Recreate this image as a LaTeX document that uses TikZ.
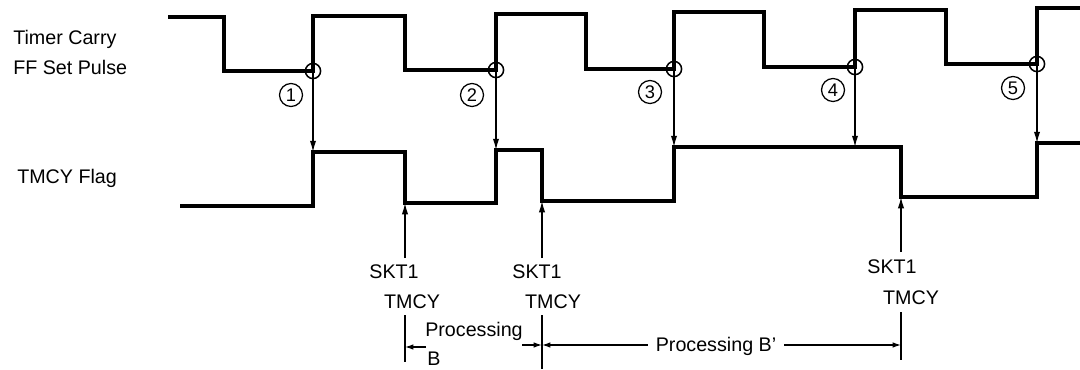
\documentclass[tikz,border=0pt]{standalone}
\usepackage{fontspec}
\setmainfont{Liberation Sans}
\usetikzlibrary{arrows.meta}
\begin{document}
\begin{tikzpicture}[x=0.025cm,y=-0.025cm,
  sig/.style={line width=2.2pt, line join=miter},
  conn/.style={line width=0.9pt},
  arr/.style={conn,-{Latex[length=8pt,width=4.5pt]}},
  darr/.style={conn,-{Latex[length=6pt,width=4pt]}},
  lbl/.style={font=\fontsize{14}{16}\selectfont, inner sep=0pt},
  num/.style={draw, circle, line width=0.9pt, minimum size=0.575cm, inner sep=0pt, font=\fontsize{13}{15}\selectfont},
  ring/.style={draw, line width=1.1pt}]
\useasboundingbox (0,0) rectangle (1080,369);
% left labels
\node[lbl, anchor=base west] (l1) at (13,44) {Timer Carry};
\node[lbl, anchor=base west] (l2) at (13,74) {FF Set Pulse};
\node[lbl, anchor=base west] (l3) at (17,183) {TMCY Flag};
% signals
\draw[sig] (168,17) -- (224,17) -- (224,71) -- (313,71) -- (313,16) -- (405,16) -- (405,70) -- (496,70) -- (496,14) -- (586,14) -- (586,69) -- (674,69) -- (674,12) -- (764,12) -- (764,67) -- (855,67) -- (855,10) -- (946,10) -- (946,64) -- (1037,64) -- (1037,8) -- (1080,8);
\draw[sig] (180,206) -- (313,206) -- (313,152) -- (405,152) -- (405,203) -- (496,203) -- (496,150) -- (542,150) -- (542,201) -- (674,201) -- (674,147) -- (901,147) -- (901,197) -- (1037,197) -- (1037,143) -- (1080,143);
% edge points
\coordinate (e1) at (313,71);  \coordinate (t1) at (313,152);
\coordinate (e2) at (496,70);  \coordinate (t2) at (496,150);
\coordinate (e3) at (674,69);  \coordinate (t3) at (674,147);
\coordinate (e4) at (855,67);  \coordinate (t4) at (855,147);
\coordinate (e5) at (1037,64); \coordinate (t5) at (1037,143);
\foreach \i in {1,...,5}{
  \draw[ring] (e\i) circle[radius=0.19cm];
  \draw[arr] (e\i) -- (t\i);
}
% circled numbers
\node[num] (n1) at (291,95) {1};
\node[num] (n2) at (472,95) {2};
\node[num] (n3) at (650,92) {3};
\node[num] (n4) at (833,90) {4};
\node[num] (n5) at (1013,88) {5};
% SKT1 / TMCY
\coordinate (s1) at (405,203); \coordinate (a1) at (405,258);
\coordinate (s2) at (542,201); \coordinate (a2) at (542,258);
\coordinate (s3) at (901,197); \coordinate (a3) at (901,252);
\draw[arr] (a1) -- (s1);
\draw[arr] (a2) -- (s2);
\draw[arr] (a3) -- (s3);
\node[lbl, anchor=base] (k1) at (394,278) {SKT1};
\node[lbl, anchor=base] (m1) at (412,308) {TMCY};
\node[lbl, anchor=base] (k2) at (537,278) {SKT1};
\node[lbl, anchor=base] (m2) at (553,308) {TMCY};
\node[lbl, anchor=base] (k3) at (892,273) {SKT1};
\node[lbl, anchor=base] (m3) at (911,304) {TMCY};
% ticks
\coordinate (p1a) at (405,315); \coordinate (p1b) at (405,362);
\coordinate (p2a) at (542,315); \coordinate (p2b) at (542,369);
\coordinate (p3a) at (901,312); \coordinate (p3b) at (901,360);
\draw[conn] (p1a) -- (p1b);
\draw[conn] (p2a) -- (p2b);
\draw[conn] (p3a) -- (p3b);
% processing B
\node[lbl, anchor=base] (pr) at (474,336) {Processing};
\node[lbl, anchor=base] (bb) at (434,365) {B};
\coordinate (d1) at (405,347); \coordinate (d1s) at (426,347);
\coordinate (d2) at (542,345); \coordinate (d2s) at (522,345);
\draw[darr] (d1s) -- (d1);
\draw[darr] (d2s) -- (d2);
% processing B'
\node[lbl, anchor=base, inner xsep=0.2cm] (pb) at (716,351) {Processing B’};
\coordinate (d3) at (901,345);
\draw[darr] (pb.west |- d2) -- (d2);
\draw[darr] (pb.east |- d3) -- (d3);
\end{tikzpicture}
\end{document}
